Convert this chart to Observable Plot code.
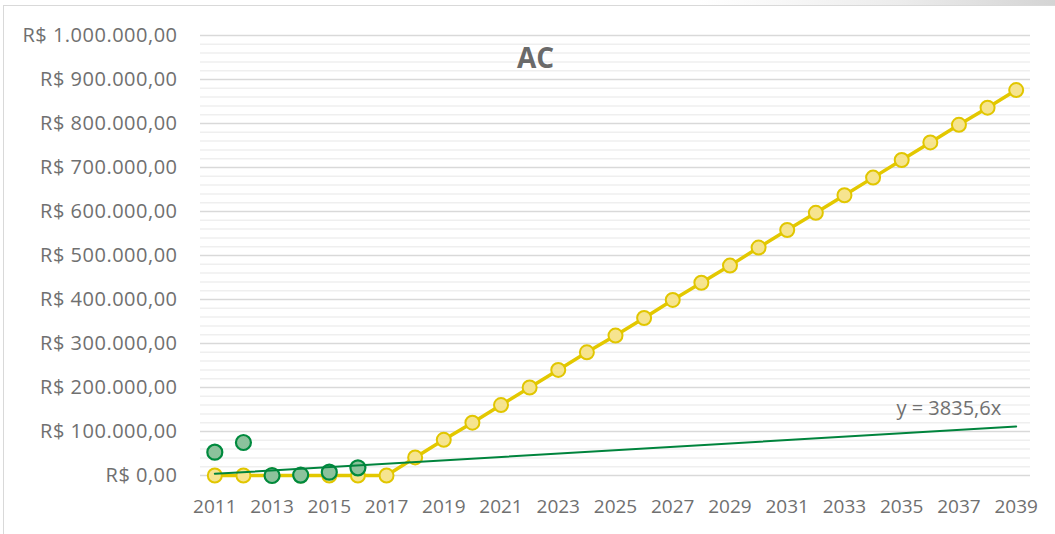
<!DOCTYPE html>
<html><head><meta charset="utf-8">
<script src="https://cdn.jsdelivr.net/npm/d3@7"></script>
<script src="https://cdn.jsdelivr.net/npm/@observablehq/plot@0.6"></script>
<style>
html,body{margin:0;padding:0;background:#fff;}
#wrap{position:relative;width:1055px;height:534px;overflow:hidden;font-family:"Open Sans",sans-serif;}
#frame{position:absolute;left:3px;top:5px;width:1100px;height:600px;border:1px solid #d9d9d9;box-sizing:border-box;}
#band{position:absolute;left:0;top:0;width:1055px;height:5px;background:linear-gradient(to right,#fff 0px,#fff 700px,#ececec 900px,#d4d4d4 1055px);}
#chart{position:absolute;left:0;top:0;}
#chart g[aria-label="y-axis tick label"] text{font-size:20px;letter-spacing:0.5px;}
</style></head><body>
<div id="wrap"><div id="band"></div><div id="frame"></div><div id="chart"></div></div>
<script>
const years = [2011,2012,2013,2014,2015,2016,2017,2018,2019,2020,2021,2022,2023,2024,2025,2026,2027,2028,2029,2030,2031,2032,2033,2034,2035,2036,2037,2038,2039];
const projectedValues = [0,0,0,0,0,0,0,41000,81000,120000,160000,200000,240000,280000,318000,358000,399000,438000,477000,518000,558000,597000,637000,677000,717000,757000,797000,836000,876000];
const actualYears = [2011,2012,2013,2014,2015,2016];
const actualValues = [53000,75000,0,1000,7500,17500];
const trendYears = [2011,2039];
const trendValues = [3835.6,111232.4];
const trendLabel = "y = 3835,6x";
const title = "AC";
const xTickLabels = [2011,2013,2015,2017,2019,2021,2023,2025,2027,2029,2031,2033,2035,2037,2039];
const yTicks = [0,100000,200000,300000,400000,500000,600000,700000,800000,900000,1000000];
const yMinor = d3.range(20000,1000000,20000).filter(v => v % 100000 !== 0);

const projected = years.map((y,i) => ({year:y, value:projectedValues[i]}));
const actual = actualYears.map((y,i) => ({year:y, value:actualValues[i]}));
const trend = trendYears.map((y,i) => ({year:y, value:trendValues[i]}));

const br = d3.formatLocale({decimal:",", thousands:".", grouping:[3], currency:["R$ ",""]});
const fmt = br.format("$,.2f");

const plot = Plot.plot({
  width:1055, height:534,
  marginLeft:200, marginRight:25, marginTop:35, marginBottom:59,
  style:{fontFamily:'"Open Sans", sans-serif', fontSize:"19px", color:"#707070", background:"transparent"},
  x:{type:"point", domain:years, padding:0.5, round:false, label:null, ticks:xTickLabels, tickFormat:d => `${d}`, tickSize:0, tickPadding:24},
  y:{domain:[0,1000000], ticks:yTicks, tickFormat:fmt, tickSize:0, tickPadding:23, label:null},
  marks:[
    Plot.ruleY(yMinor, {stroke:"#efefef", strokeWidth:1.5}),
    Plot.ruleY(yTicks, {stroke:"#d9d9d9", strokeWidth:1.5}),
    Plot.line(projected, {x:"year", y:"value", stroke:"#e3c800", strokeWidth:3.5}),
    Plot.dot(projected, {x:"year", y:"value", r:7, fill:"#f6e48f", stroke:"#e1c600", strokeWidth:2}),
    Plot.dot(actual, {x:"year", y:"value", r:7.5, fill:"#8cc29c", stroke:"#008a3e", strokeWidth:2.2}),
    Plot.line(trend, {x:"year", y:"value", stroke:"#00843d", strokeWidth:2}),
    Plot.text([trendLabel], {x:[trendYears[1]], y:[trendValues[1]], text:d => d, textAnchor:"end", lineAnchor:"bottom", dx:-15, dy:-12, fill:"#707070", fontSize:20}),
    Plot.text([title], {frameAnchor:"top", text:d => d, lineAnchor:"bottom", dx:-80, dy:32, fontSize:28, fontWeight:"bold", fill:"#6a6a6a"})
  ]
});
document.getElementById("chart").appendChild(plot);
</script></body></html>
